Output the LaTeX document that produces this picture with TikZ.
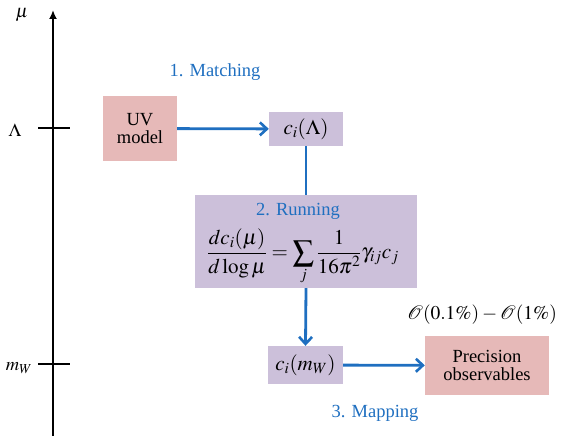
\documentclass[tikz,border=0pt]{standalone}
\usepackage{mathptmx}
\usepackage{fontspec}
\setmainfont{Liberation Serif}
\usetikzlibrary{arrows.meta}
\definecolor{uvpink}{HTML}{E6B9B8}
\definecolor{coefpurple}{HTML}{CCC0DA}
\definecolor{stepblue}{HTML}{1F6FC0}

\begin{document}
\begin{tikzpicture}[x=1pt,y=-1pt,font=\fontsize{18.5}{21}\selectfont,
 pinkbox/.style={fill=uvpink,inner sep=0pt,align=center},
 coefbox/.style={fill=coefpurple,inner sep=0pt,align=center,font=\fontsize{21}{24}\selectfont},
 steplabel/.style={text=stepblue,inner sep=0pt},
 flow/.style={draw=stepblue,line width=2.8pt},
 flowarrow/.style={flow,-{Straight Barb[length=7pt,width=13pt,line width=2.6pt]}}]
\useasboundingbox (0,0) rectangle (562,436);

 %scale axis:
 \coordinate (Abot) at (53,436);
 \coordinate (Atop) at (53,10);
 \draw[-{Latex[length=9pt,width=8pt]},line width=2.5pt] (Abot) -- (Atop);
 \node[inner sep=1pt] (mu) at (22,15) {$\mu$};
 \draw[line width=2.5pt] (38,128) -- (70,128);
 \node (lam) at (15,130) {$\Lambda$};
 \draw[line width=2.5pt] (38,364) -- (70,364);
 \node (mw) at (19,368) {$m_W$};

 %boxes:
 \node[pinkbox,minimum width=74pt,minimum height=65pt] (uv) at (140,128.5) {UV\\[-3pt]model};
 \node[coefbox,minimum width=74pt,minimum height=34pt] (cl) at (306,129) {$c_i(\Lambda)$};
 \node[coefbox,minimum width=222pt,minimum height=93pt] (run) at (306,241.5) {};
 \node[coefbox,minimum width=75pt,minimum height=38pt] (cw) at (305.5,365) {$c_i(m_W)$};
 \node[pinkbox,minimum width=124pt,minimum height=59pt] (prec) at (487,365.5) {Precision\\[-3pt]observables};

 %labels:
 \node[steplabel] (match) at (215,72) {1. Matching};
 \node[steplabel] (runlbl) at (298,211) {2. Running};
 \node[font=\fontsize{21}{24}\selectfont,inner sep=0pt] (rge) at (303,257) {$\displaystyle\frac{dc_i(\mu)}{d\log\mu}=\sum_j\frac{1}{16\pi^2}\gamma_{ij}c_j$};
 \node[font=\fontsize{19.5}{22}\selectfont] (acc) at (482,315) {$\mathcal{O}(0.1\%)-\mathcal{O}(1\%)$};
 \node[steplabel] (mapl) at (375,413) {3. Mapping};

 %flow:
 \draw[flowarrow] (uv) -- (cl);
 \draw[flow] (cl.south) -- (run.north);
 \draw[flowarrow] (run.south) -- (cw.north);
 \draw[flowarrow] (cw) -- (prec);
\end{tikzpicture}
\end{document}
